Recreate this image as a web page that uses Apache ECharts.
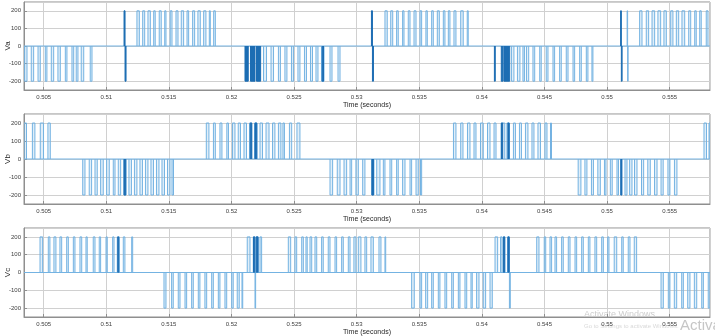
<!DOCTYPE html>
<html><head><meta charset="utf-8">
<script src="https://cdn.jsdelivr.net/npm/echarts@6/dist/echarts.min.js"></script>
<style>html,body{margin:0;padding:0;background:#fff}#c{width:715px;height:336px}</style>
</head><body><div id="c"></div>
<script>
// ---- axis data ----
var timeMin = 0.50343, timeMax = 0.55822;      // seconds
var timeOrigin = 0.5;                          // pulse times below are ms after this (s)
var voltMin = -250, voltMax = 250;
var pulseLevel = 200;                          // V
var phaseNames = ['Va', 'Vb', 'Vc'];
var xAxisTitle = 'Time (seconds)';

// ---- Va pulses [start ms, end ms] ----
var vaPositive = [[12.45,12.64],[12.91,13.07],[13.33,13.52],[13.79,13.91],[14.23,14.39],[14.67,14.77],[15.11,15.25],[15.57,15.73],[15.99,16.18],[16.45,16.58],[16.90,17.06],[17.32,17.51],[17.78,17.96],[18.23,18.31],[18.58,18.71],
  [32.26,32.44],[32.72,32.88],[33.19,33.32],[33.67,33.78],[34.12,34.26],[34.58,34.74],[35.06,35.19],[35.53,35.64],[35.99,36.12],[36.44,36.60],[36.92,37.05],[37.32,37.45],[37.77,37.93],[38.31,38.51],[38.83,38.91],
  [51.60,51.64],
  [52.60,52.79],[53.13,53.32],[53.59,53.80],[54.06,54.28],[54.54,54.73],[55.08,55.26],[55.53,55.72],[55.98,56.20],[56.52,56.68],[57.00,57.12],[57.40,57.52],[57.92,58.06]];
var vaNegative = [[3.48,3.67],[4.01,4.20],[4.55,4.73],[5.13,5.26],[5.61,5.80],[6.14,6.33],[6.73,6.86],[7.26,7.40],[7.60,7.74],[8.00,8.20],[8.72,8.86],
  [22.56,22.80],[23.16,23.36],[23.75,23.91],[24.27,24.43],[24.79,24.95],[25.31,25.47],[25.83,25.99],[26.31,26.47],[26.75,26.91],[27.19,27.39],[27.87,28.03],[28.51,28.67],
  [42.36,42.56],[42.84,43.04],[43.28,43.40],[43.56,43.74],[44.08,44.22],[44.62,44.74],[45.14,45.28],[45.68,45.81],[46.21,46.34],[46.74,46.88],[47.28,47.41],[47.81,47.94],[48.34,48.47],[48.79,48.87],
  [51.64,51.68]];
var vaDensePositive = [[11.42,11.50],[31.18,31.26],[51.08,51.14]];
var vaDenseNegative = [[11.50,11.58],[21.08,21.34],[21.52,21.88],[22.00,22.33],[27.25,27.35],[31.26,31.34],[41.00,41.07],[41.55,41.68],[41.76,42.22],[51.14,51.20]];

// ---- Vb pulses ----
var vbPositive = [[3.43,3.63],[4.10,4.30],[4.73,4.99],[5.34,5.53],
  [17.99,18.20],[18.56,18.71],[19.08,19.24],[19.63,19.76],[20.08,20.28],[20.54,20.72],[21.00,21.20],[21.44,21.62],[21.84,22.04],[22.28,22.48],[22.76,23.00],[23.28,23.47],[23.75,23.95],[24.11,24.23],[24.63,24.81],[25.23,25.47],
  [37.73,37.93],[38.31,38.49],[38.85,39.05],[39.37,39.53],[39.89,40.11],[40.45,40.65],[40.97,41.13],[41.54,41.83],[42.00,42.20],[42.52,42.68],[43.00,43.16],[43.48,43.68],[44.00,44.16],[44.48,44.68],[45.04,45.20],[45.48,45.56],
  [57.74,57.94],[58.14,58.22]];
var vbNegative = [[8.12,8.30],[8.64,8.83],[9.10,9.28],[9.55,9.76],[10.03,10.24],[10.56,10.70],[10.96,11.15],[11.41,11.57],[11.81,12.01],[12.25,12.45],[12.69,12.89],[13.13,13.33],[13.57,13.77],[14.01,14.21],[14.45,14.65],[14.89,15.09],[15.25,15.37],
  [27.87,28.08],[28.45,28.67],[28.99,29.20],[29.47,29.60],[29.94,30.13],[30.48,30.66],[31.20,31.38],[31.60,31.86],[32.13,32.26],[32.66,32.80],[33.19,33.32],[33.67,33.86],[34.26,34.39],[34.74,34.92],[35.10,35.19],
  [47.69,47.91],[48.23,48.39],[48.75,48.91],[49.26,49.46],[49.79,49.91],[50.26,50.41],[50.79,50.91],[51.09,51.17],[51.43,51.59],[51.80,51.99],[52.19,52.39],[52.75,52.92],[53.25,53.45],[53.79,53.99],[54.31,54.48],[54.86,55.02],[55.38,55.58]];
var vbDensePositive = [[21.50,21.62],[21.88,22.02],[41.56,41.66],[42.08,42.18]];
var vbDenseNegative = [[11.42,11.56],[31.22,31.34],[51.10,51.18]];

// ---- Vc pulses ----
var vcPositive = [[4.71,4.92],[5.37,5.50],[5.82,5.98],[6.30,6.44],[6.84,6.97],[7.37,7.50],[7.90,8.04],[8.38,8.48],[8.96,9.10],[9.44,9.55],[9.98,10.08],[10.51,10.62],[10.88,11.04],[11.36,11.49],[12.03,12.11],
  [21.26,21.48],[21.74,21.88],[21.96,22.14],[22.28,22.41],
  [24.54,24.73],[25.07,25.21],[25.61,25.74],[25.95,26.05],[26.27,26.41],[26.67,26.81],[27.20,27.33],[27.73,27.87],[28.27,28.40],[28.80,28.93],[29.33,29.47],[29.78,29.94],[30.13,30.34],[30.66,30.80],[31.14,31.33],[31.78,31.94],[32.26,32.32],
  [41.05,41.26],[41.49,41.61],[41.71,41.84],[42.06,42.20],
  [44.38,44.56],[44.98,45.10],[45.44,45.57],[45.84,45.97],[46.37,46.50],[46.90,47.04],[47.44,47.57],[47.97,48.10],[48.50,48.63],[49.03,49.17],[49.57,49.70],[50.05,50.15],[50.57,50.77],[51.17,51.29],[51.69,51.83],[52.17,52.36]];
var vcNegative = [[14.61,14.77],[15.22,15.35],[15.75,15.89],[16.29,16.42],[16.82,16.95],[17.35,17.48],[17.88,18.02],[18.42,18.55],[18.95,19.08],[19.48,19.62],[20.02,20.14],[20.46,20.62],[20.84,20.90],
  [21.88,21.93],
  [34.39,34.60],[35.06,35.19],[35.51,35.67],[35.99,36.12],[36.52,36.65],[37.05,37.19],[37.59,37.72],[38.12,38.25],[38.65,38.79],[39.13,39.23],[39.58,39.77],[40.11,40.30],[40.65,40.83],
  [42.20,42.27],
  [54.31,54.49],[54.89,55.02],[55.37,55.56],[55.96,56.09],[56.44,56.62],[56.97,57.16],[57.56,57.69],[58.08,58.22]];
var vcDensePositive = [[10.92,11.00],[21.76,21.86],[21.98,22.12],[41.72,41.82],[42.08,42.18]];
var vcDenseNegative = [];

// ---- build ----
function toSec(ms) { return timeOrigin + ms / 1000; }
function pulseItems(pos, neg) {
  var ev = [];
  pos.forEach(function (p) { ev.push([toSec(p[0]), toSec(p[1]), pulseLevel]); });
  neg.forEach(function (p) { ev.push([toSec(p[0]), toSec(p[1]), -pulseLevel]); });
  ev.sort(function (a, b) { return a[0] - b[0]; });
  return ev;
}
function pulseRenderer(stroke, fill) {
  return function (params, api) {
    var a = api.value(0), b = api.value(1), L = api.value(2);
    var pts = [api.coord([a, 0]), api.coord([a, L]), api.coord([b, L]), api.coord([b, 0])];
    return { type: 'group', silent: true, children: [
      { type: 'polygon', shape: { points: pts }, style: { fill: fill, stroke: null } },
      { type: 'polyline', shape: { points: pts }, style: { fill: null, stroke: stroke, lineWidth: 1 } }
    ] };
  };
}

var phases = [
  [vaPositive, vaNegative, vaDensePositive, vaDenseNegative],
  [vbPositive, vbNegative, vbDensePositive, vbDenseNegative],
  [vcPositive, vcNegative, vcDensePositive, vcDenseNegative]
];
var gridTops = [2, 114, 228], gridHeights = [88, 90, 89];
var font = 'Liberation Sans, Arial, sans-serif';
var lightBlue = '#74b3e2', lightFill = 'rgba(116,179,226,0.22)', darkBlue = '#1c6db3';
var grids = [], xAxes = [], yAxes = [], series = [];
phases.forEach(function (ph, i) {
  grids.push({ left: 24, right: 5, top: gridTops[i], height: gridHeights[i], show: true,
    outerBoundsMode: 'none', containLabel: false,
    borderColor: '#8f8f8f', borderWidth: 1, backgroundColor: '#fff' });
  xAxes.push({ gridIndex: i, type: 'value', min: timeMin, max: timeMax, splitNumber: 11,
    name: xAxisTitle, nameLocation: 'middle', nameGap: 12, nameMoveOverlap: false,
    nameTextStyle: { fontSize: 7, color: '#262626', fontFamily: font },
    axisLine: { show: true, onZero: false, lineStyle: { color: '#8f8f8f', width: 1 } },
    axisTick: { show: true, inside: true, length: 3, lineStyle: { color: '#8f8f8f' } },
    axisLabel: { fontSize: 6, color: '#404040', margin: 4, fontFamily: font, showMinLabel: false, showMaxLabel: false },
    splitLine: { show: true, lineStyle: { color: '#d0d0d0', width: 1 } } });
  yAxes.push({ gridIndex: i, type: 'value', min: voltMin, max: voltMax, splitNumber: 5,
    name: phaseNames[i], nameLocation: 'middle', nameGap: 12, nameMoveOverlap: false,
    nameTextStyle: { fontSize: 8, color: '#262626', fontFamily: font },
    axisLine: { show: true, onZero: false, lineStyle: { color: '#8f8f8f', width: 1 } },
    axisTick: { show: true, inside: true, length: 3, lineStyle: { color: '#8f8f8f' } },
    axisLabel: { fontSize: 6, color: '#404040', margin: 3, fontFamily: font, showMinLabel: false, showMaxLabel: false },
    splitLine: { show: true, lineStyle: { color: '#d0d0d0', width: 1 } } });
  // zero-level baseline of the waveform
  series.push({ type: 'line', xAxisIndex: i, yAxisIndex: i, name: phaseNames[i] + ' base',
    data: [[timeMin, 0], [timeMax, 0]], showSymbol: false, symbol: 'none',
    lineStyle: { color: lightBlue, width: 1 }, animation: false, z: 2 });
  series.push({ type: 'custom', xAxisIndex: i, yAxisIndex: i, name: phaseNames[i],
    data: pulseItems(ph[0], ph[1]), encode: { x: [0, 1], y: 2 },
    renderItem: pulseRenderer(lightBlue, lightFill), animation: false, z: 3, clip: true });
  series.push({ type: 'custom', xAxisIndex: i, yAxisIndex: i, name: phaseNames[i] + ' dense',
    data: pulseItems(ph[2], ph[3]), encode: { x: [0, 1], y: 2 },
    renderItem: pulseRenderer(darkBlue, darkBlue), animation: false, z: 4, clip: true });
});

var chart = echarts.init(document.getElementById('c'), null, { renderer: 'canvas' });
chart.setOption({
  animation: false,
  backgroundColor: '#fff',
  grid: grids, xAxis: xAxes, yAxis: yAxes, series: series,
  graphic: [
    { type: 'text', left: 584, top: 310, style: { text: 'Activate Windows', fill: '#cdcdcd', font: '9px ' + font } },
    { type: 'text', left: 584, top: 323, style: { text: 'Go to Settings to activate Windows.', fill: '#d9d9d9', font: '6px ' + font } },
    { type: 'text', left: 680, top: 318, style: { text: 'Activa', fill: '#c6c6c6', font: '15px ' + font } }
  ]
});
</script></body></html>
